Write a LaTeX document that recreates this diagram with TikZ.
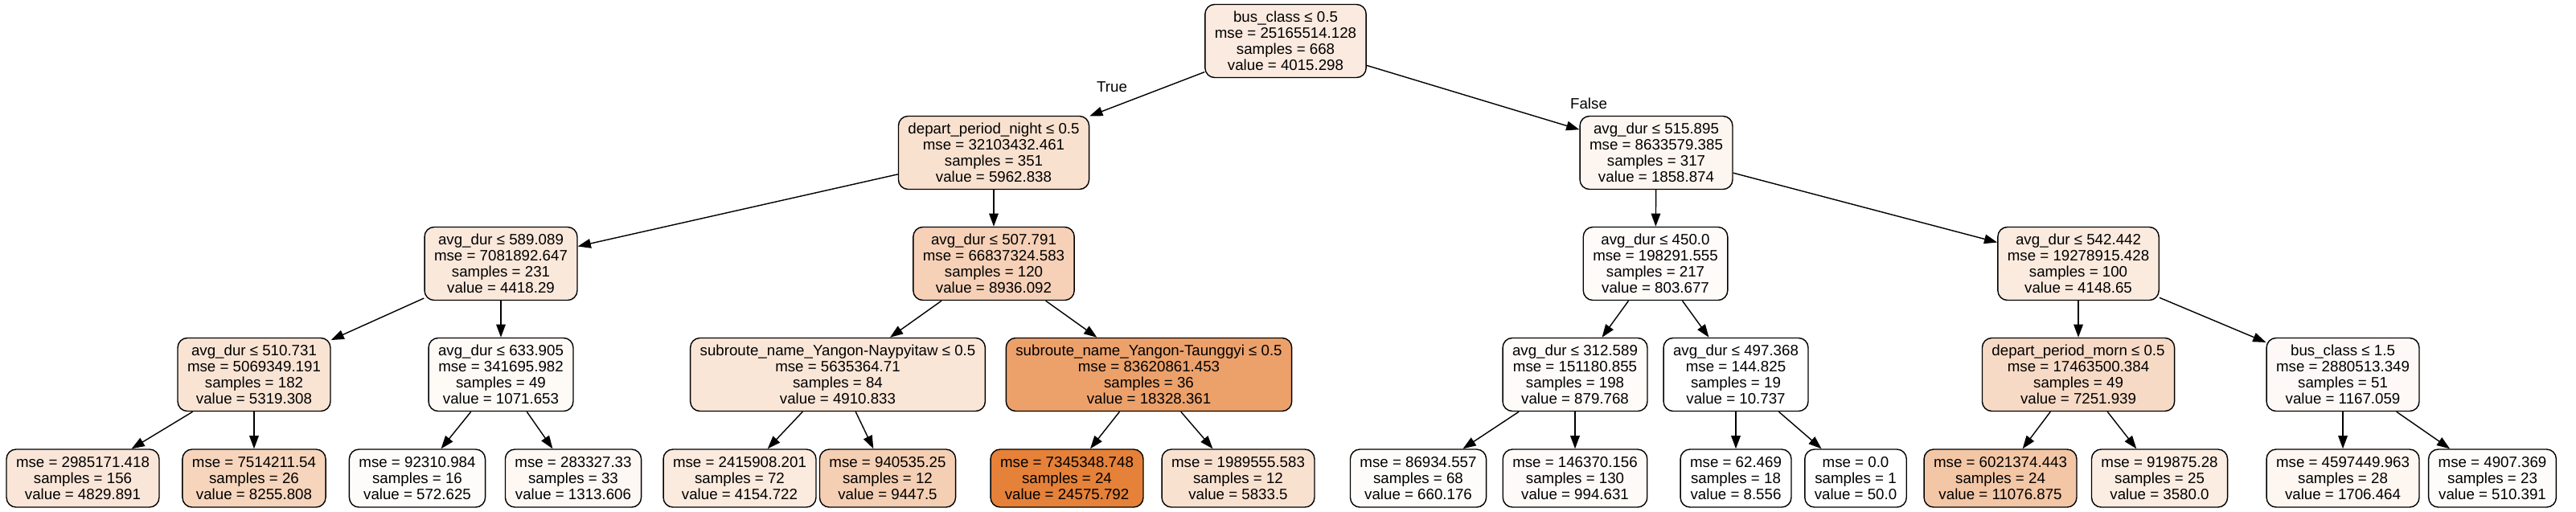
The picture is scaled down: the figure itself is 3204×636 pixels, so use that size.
\documentclass[tikz,border=0pt]{standalone}
\usepackage{fontspec}
\setmainfont{Liberation Sans}
\usetikzlibrary{arrows.meta}
\definecolor{treeorange}{HTML}{E58139}
\newcommand{\treefont}{\fontsize{5.32}{5.69}\selectfont}

\begin{document}
\begin{tikzpicture}[x=0.01cm, y=-0.01cm,
        splitbox/.style={draw, rounded corners=0.12cm, align=center, font=\treefont, minimum height=0.91cm, inner xsep=0.12cm, inner ysep=0pt, line width=0.4pt},
        leafbox/.style={splitbox, minimum height=0.72cm},
        treearrow/.style={-{Triangle[length=4.6pt,width=3.3pt]}, line width=0.4pt}]
            \useasboundingbox (0,0) rectangle (3204,636);

            % split nodes
            \node[splitbox, fill=treeorange!16.3] (n0) at (1599,51) {bus\_class ≤ 0.5\\mse = 25165514.128\\samples = 668\\value = 4015.298};
            \node[splitbox, fill=treeorange!24.2] (n1) at (1236,190) {depart\_period\_night ≤ 0.5\\mse = 32103432.461\\samples = 351\\value = 5962.838};
            \node[splitbox, fill=treeorange!7.5] (n2) at (2060,190) {avg\_dur ≤ 515.895\\mse = 8633579.385\\samples = 317\\value = 1858.874};
            \node[splitbox, fill=treeorange!18.0] (n3) at (623,328) {avg\_dur ≤ 589.089\\mse = 7081892.647\\samples = 231\\value = 4418.29};
            \node[splitbox, fill=treeorange!36.3] (n4) at (1236,328) {avg\_dur ≤ 507.791\\mse = 66837324.583\\samples = 120\\value = 8936.092};
            \node[splitbox, fill=treeorange!3.2] (n5) at (2059,328) {avg\_dur ≤ 450.0\\mse = 198291.555\\samples = 217\\value = 803.677};
            \node[splitbox, fill=treeorange!16.9] (n6) at (2585,328) {avg\_dur ≤ 542.442\\mse = 19278915.428\\samples = 100\\value = 4148.65};
            \node[splitbox, fill=treeorange!21.6] (n7) at (316,466) {avg\_dur ≤ 510.731\\mse = 5069349.191\\samples = 182\\value = 5319.308};
            \node[splitbox, fill=treeorange!4.3] (n8) at (623,466) {avg\_dur ≤ 633.905\\mse = 341695.982\\samples = 49\\value = 1071.653};
            \node[splitbox, fill=treeorange!20.0] (n9) at (1042,466) {subroute\_name\_Yangon-Naypyitaw ≤ 0.5\\mse = 5635364.71\\samples = 84\\value = 4910.833};
            \node[splitbox, fill=treeorange!74.6] (n10) at (1429,466) {subroute\_name\_Yangon-Taunggyi ≤ 0.5\\mse = 83620861.453\\samples = 36\\value = 18328.361};
            \node[splitbox, fill=treeorange!3.5] (n11) at (1959,466) {avg\_dur ≤ 312.589\\mse = 151180.855\\samples = 198\\value = 879.768};
            \node[splitbox, fill=white] (n12) at (2159,466) {avg\_dur ≤ 497.368\\mse = 144.825\\samples = 19\\value = 10.737};
            \node[splitbox, fill=treeorange!29.5] (n13) at (2585,466) {depart\_period\_morn ≤ 0.5\\mse = 17463500.384\\samples = 49\\value = 7251.939};
            \node[splitbox, fill=treeorange!4.7] (n14) at (2914,466) {bus\_class ≤ 1.5\\mse = 2880513.349\\samples = 51\\value = 1167.059};

            % leaves
            \node[leafbox, fill=treeorange!19.6] (l1) at (103,595) {mse = 2985171.418\\samples = 156\\value = 4829.891};
            \node[leafbox, fill=treeorange!33.6] (l2) at (316,595) {mse = 7514211.54\\samples = 26\\value = 8255.808};
            \node[leafbox, fill=treeorange!2.3] (l3) at (519,595) {mse = 92310.984\\samples = 16\\value = 572.625};
            \node[leafbox, fill=treeorange!5.3] (l4) at (713,595) {mse = 283327.33\\samples = 33\\value = 1313.606};
            \node[leafbox, fill=treeorange!16.9] (l5) at (920,595) {mse = 2415908.201\\samples = 72\\value = 4154.722};
            \node[leafbox, fill=treeorange!38.4] (l6) at (1104,595) {mse = 940535.25\\samples = 12\\value = 9447.5};
            \node[leafbox, fill=treeorange] (l7) at (1327,595) {mse = 7345348.748\\samples = 24\\value = 24575.792};
            \node[leafbox, fill=treeorange!23.7] (l8) at (1540,595) {mse = 1989555.583\\samples = 12\\value = 5833.5};
            \node[leafbox, fill=treeorange!2.7] (l9) at (1764,595) {mse = 86934.557\\samples = 68\\value = 660.176};
            \node[leafbox, fill=treeorange!4.0] (l10) at (1959,595) {mse = 146370.156\\samples = 130\\value = 994.631};
            \node[leafbox, fill=white] (l11) at (2159,595) {mse = 62.469\\samples = 18\\value = 8.556};
            \node[leafbox, fill=treeorange!0.2] (l12) at (2308,595) {mse = 0.0\\samples = 1\\value = 50.0};
            \node[leafbox, fill=treeorange!45.1] (l13) at (2488,595) {mse = 6021374.443\\samples = 24\\value = 11076.875};
            \node[leafbox, fill=treeorange!14.5] (l14) at (2686,595) {mse = 919875.28\\samples = 25\\value = 3580.0};
            \node[leafbox, fill=treeorange!6.9] (l15) at (2914,595) {mse = 4597449.963\\samples = 28\\value = 1706.464};
            \node[leafbox, fill=treeorange!2.0] (l16) at (3100,595) {mse = 4907.369\\samples = 23\\value = 510.391};

            % branch labels
            \node[font=\treefont] (truelbl) at (1383,108) {True};
            \node[font=\treefont] (falselbl) at (1976,129) {False};

            \draw[treearrow] (n0) -- (n1);
            \draw[treearrow] (n0) -- (n2);
            \draw[treearrow] (n1) -- (n3);
            \draw[treearrow] (n1) -- (n4);
            \draw[treearrow] (n2) -- (n5);
            \draw[treearrow] (n2) -- (n6);
            \draw[treearrow] (n3) -- (n7);
            \draw[treearrow] (n3) -- (n8);
            \draw[treearrow] (n4) -- (n9);
            \draw[treearrow] (n4) -- (n10);
            \draw[treearrow] (n5) -- (n11);
            \draw[treearrow] (n5) -- (n12);
            \draw[treearrow] (n6) -- (n13);
            \draw[treearrow] (n6) -- (n14);
            \draw[treearrow] (n7) -- (l1);
            \draw[treearrow] (n7) -- (l2);
            \draw[treearrow] (n8) -- (l3);
            \draw[treearrow] (n8) -- (l4);
            \draw[treearrow] (n9) -- (l5);
            \draw[treearrow] (n9) -- (l6);
            \draw[treearrow] (n10) -- (l7);
            \draw[treearrow] (n10) -- (l8);
            \draw[treearrow] (n11) -- (l9);
            \draw[treearrow] (n11) -- (l10);
            \draw[treearrow] (n12) -- (l11);
            \draw[treearrow] (n12) -- (l12);
            \draw[treearrow] (n13) -- (l13);
            \draw[treearrow] (n13) -- (l14);
            \draw[treearrow] (n14) -- (l15);
            \draw[treearrow] (n14) -- (l16);
        \end{tikzpicture}
\end{document}
